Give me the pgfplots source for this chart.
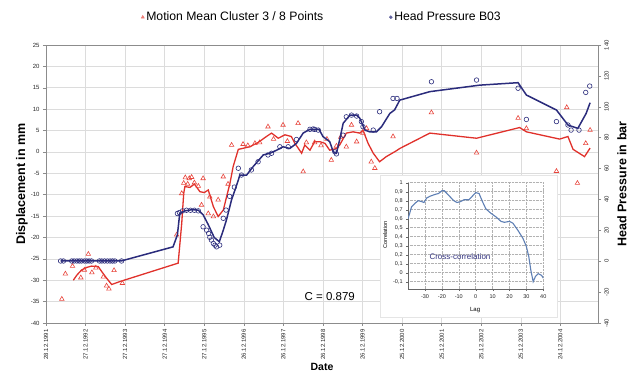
\documentclass[border=0pt]{standalone}
\usepackage{pgfplots}
\pgfplotsset{compat=1.18}
\usepackage{fontspec}
\setmainfont{Liberation Sans}
\definecolor{redline}{HTML}{E0312B}
\definecolor{redmark}{HTML}{E8453C}
\definecolor{navy}{HTML}{2B2C7C}
\definecolor{gridc}{HTML}{DCDCDC}
\definecolor{axisc}{HTML}{8C8C8C}
\definecolor{ccline}{HTML}{5E7FB4}
\definecolor{cctext}{HTML}{33337F}

\pgfplotstableread{
t y
0.40 -34.4
0.49 -28.5
0.67 -26.7
0.88 -29.4
0.97 -27.6
1.07 -23.9
1.16 -28.2
1.26 -27.1
1.45 -29.2
1.53 -31.3
1.59 -32.0
1.72 -27.7
1.93 -30.7
3.30 -19.4
3.43 -9.7
3.48 -7.3
3.52 -6.0
3.58 -7.5
3.62 -6.2
3.68 -5.9
3.75 -7.2
3.85 -8.0
3.93 -12.4
3.97 -6.2
4.10 -14.4
4.14 -10.5
4.23 -15.1
4.35 -11.2
4.48 -5.8
4.60 -7.5
4.69 1.6
4.98 1.8
5.10 1.5
5.28 2.0
5.40 2.2
5.61 5.9
5.75 3.0
5.99 6.3
6.10 2.5
6.37 6.7
6.50 -4.6
6.58 2.2
6.79 2.2
6.95 1.5
7.10 3.0
7.21 -1.9
7.34 1.4
7.45 3.5
7.59 1.2
7.72 6.3
7.85 2.4
8.01 4.4
8.10 5.5
8.22 -2.3
8.31 -3.8
8.77 3.6
9.74 9.2
10.88 -0.2
11.93 7.9
12.14 5.5
12.90 -4.5
13.16 10.4
13.43 -7.3
13.64 2.0
13.75 5.1
}\redpts

\pgfplotstableread{
t y
0.69 -30.0
0.78 -28.8
0.90 -27.6
1.03 -27.0
1.15 -26.7
1.32 -26.8
1.41 -28.0
1.53 -29.5
1.66 -31.0
1.87 -30.3
3.34 -26.0
3.43 -16.7
3.48 -9.7
3.51 -8.1
3.64 -8.3
3.75 -7.5
3.89 -9.3
4.00 -9.5
4.10 -8.9
4.23 -12.8
4.35 -15.1
4.48 -13.6
4.65 -7.3
4.73 -3.4
4.86 0.6
5.15 1.2
5.36 2.2
5.57 3.6
5.70 4.4
5.87 3.2
6.04 4.0
6.20 3.6
6.29 2.0
6.46 -0.3
6.54 1.6
6.67 0.4
6.79 2.4
6.92 2.4
7.05 2.0
7.17 0.4
7.34 0.8
7.42 1.6
7.59 4.4
7.76 4.7
7.93 4.4
8.01 5.1
8.14 2.0
8.27 -0.3
8.43 -2.3
8.60 -1.1
8.86 0.3
8.94 0.8
9.70 4.4
10.88 3.2
11.97 5.7
12.14 4.7
12.98 3.0
13.19 3.6
13.32 0.6
13.61 -1.1
13.75 0.9
}\redline

\pgfplotstableread{
t p
0.37 0.15
0.44 0.15
0.65 0.15
0.71 0.15
0.78 0.15
0.84 0.15
0.90 0.15
0.97 0.15
1.03 0.15
1.09 0.15
1.15 0.15
1.35 0.15
1.41 0.15
1.48 0.15
1.55 0.15
1.62 0.15
1.68 0.15
1.74 0.15
1.91 0.15
3.32 30.9
3.37 31.5
3.45 32.6
3.55 33.0
3.65 33.0
3.75 33.0
3.85 32.6
3.97 22.3
4.06 20.1
4.11 18.0
4.14 15.5
4.18 13.7
4.23 11.5
4.27 10.4
4.31 9.3
4.39 10.4
4.48 27.8
4.55 33.1
4.64 42.0
4.76 48.0
4.86 60.2
4.94 55.8
5.19 59.1
5.36 64.4
5.61 68.8
5.70 69.9
5.91 74.1
6.12 74.1
6.33 78.8
6.67 85.4
6.75 85.6
6.79 85.4
6.88 84.9
7.30 70.8
7.34 69.5
7.51 81.6
7.59 93.5
7.72 94.6
7.85 94.0
7.97 90.4
8.01 87.1
8.27 84.9
8.43 96.8
8.77 105.4
8.87 105.4
9.74 116.2
10.88 117.3
11.93 112.0
12.14 91.8
12.90 90.4
13.19 88.2
13.27 84.9
13.47 84.9
13.64 109.3
13.74 113.4
}\bluepts

\pgfplotstableread{
t p
0.37 0.15
1.90 0.15
3.21 9.3
3.32 17.0
3.38 30.9
3.50 32.6
3.70 33.4
3.85 33.0
3.97 30.1
4.10 23.7
4.25 15.4
4.38 12.6
4.48 20.1
4.56 26.7
4.69 39.8
4.82 49.4
4.90 55.8
5.07 55.8
5.24 61.4
5.49 68.8
5.66 69.9
5.83 71.9
5.99 74.1
6.16 73.0
6.33 76.3
6.50 83.0
6.67 85.4
6.90 85.4
7.00 80.7
7.17 77.4
7.26 70.8
7.34 69.9
7.42 78.5
7.51 89.3
7.68 94.6
7.85 94.6
7.93 92.6
8.06 84.9
8.18 83.8
8.35 83.8
8.48 87.1
8.69 95.7
8.81 98.0
8.94 104.3
9.70 109.8
10.96 114.0
11.93 115.6
12.14 107.6
12.90 97.9
13.19 88.2
13.44 86.0
13.65 95.7
13.75 102.6
}\blueline

\pgfplotstableread{
lag c
-40 0.60
-38 0.73
-36 0.77
-34 0.80
-32 0.79
-30.6 0.78
-29 0.83
-27 0.85
-24 0.87
-22 0.88
-20 0.91
-18.6 0.91
-17 0.88
-15 0.84
-13 0.80
-11 0.78
-9 0.79
-7 0.81
-4 0.81
-2 0.85
0 0.89
2 0.88
4 0.79
6 0.71
9 0.66
12 0.62
15 0.57
17 0.56
20 0.57
22 0.55
25 0.47
28 0.38
30 0.29
31.4 0.18
32.6 0.03
34 -0.10
35.4 -0.04
37 -0.01
39 -0.03
40 -0.06
}\xcorr

\begin{document}
\begin{tikzpicture}[x=1pt,y=1pt]
\path[use as bounding box] (0,0) rectangle (628,374);
\begin{axis}[
  at={(46pt,51pt)}, anchor=south west,
  width=552pt, height=278pt, scale only axis,
  xmin=0, xmax=13.95, ymin=-40, ymax=25,
  xtick={0,1,...,13},
  xticklabels={28.12.1991,27.12.1992,27.12.1993,27.12.1994,27.12.1995,26.12.1996,26.12.1997,26.12.1998,26.12.1999,25.12.2000,25.12.2001,25.12.2002,25.12.2003,24.12.2004},
  ytick={-40,-35,...,25},
  xtick pos=bottom, ytick pos=left,
  tick align=outside, major tick length=3pt,
  tick style={axisc, line width=0.5pt},
  grid=major, grid style={gridc, line width=0.6pt},
  axis line style={axisc, line width=0.7pt},
  /pgf/number format/assume math mode=true,
  xticklabel style={rotate=90, anchor=east, font=\fontsize{6}{7}\selectfont, text=black!85},
  yticklabel style={font=\fontsize{6}{7}\selectfont, text=black!85},
  xlabel={\textbf{Date}},
  xlabel style={at={(axis description cs:0.5,-0.158)}, anchor=center, font=\fontsize{10.5}{12}\selectfont},
  ylabel={\textbf{Displacement in mm}},
  ylabel style={at={(axis description cs:-0.0435,0.5)}, anchor=center, font=\fontsize{12.5}{14}\selectfont},
]
\addplot[redline, line width=1.3pt] table[x=t,y=y] {\redline};
\addplot[only marks, mark=triangle, mark size=2.6pt, redmark, mark options={line width=0.6pt}] table[x=t,y=y] {\redpts};
\node[font=\fontsize{11.5}{13}\selectfont] at (axis cs:7.17,-33.7) {C = 0.879};
\end{axis}

\begin{axis}[
  at={(46pt,51pt)}, anchor=south west,
  width=552pt, height=278pt, scale only axis,
  xmin=0, xmax=13.95, ymin=-40, ymax=140,
  axis x line=none, axis y line*=right,
  ytick={-40,-20,...,140},
  tick align=outside, major tick length=3pt,
  tick style={axisc, line width=0.5pt},
  axis line style={axisc, line width=0.7pt},
  /pgf/number format/assume math mode=true,
  yticklabel style={rotate=90, anchor=north, font=\fontsize{6}{7}\selectfont, text=black!85},
  ylabel={\textbf{Head Pressure in bar}},
  ylabel style={at={(axis description cs:1.0435,0.5)}, anchor=center, font=\fontsize{12.5}{14}\selectfont},
  legend style={at={(axis description cs:0.5,1.1)}, anchor=center, draw=none, fill=none,
    font=\fontsize{12.2}{14}\selectfont, legend columns=2,
    /tikz/every even column/.append style={column sep=64pt}},
]
\addlegendimage{only marks, mark=triangle*, mark size=1.8pt, redmark!70}
\addlegendentry{Motion Mean Cluster 3 / 8 Points}
\addlegendimage{only marks, mark=*, mark size=1.5pt, navy!75}
\addlegendentry{Head Pressure B03}
\addplot[navy, line width=1.5pt, forget plot] table[x=t,y=p] {\blueline};
\addplot[only marks, mark=o, mark size=2.3pt, navy, mark options={line width=0.6pt}, forget plot] table[x=t,y=p] {\bluepts};
\end{axis}

\fill[white, draw=gray!20] (380,57) rectangle (557,199);

\begin{axis}[
  at={(408.1pt,85.1pt)}, anchor=south west,
  width=135.2pt, height=106.2pt, scale only axis,
  xmin=-40, xmax=40, ymin=-0.18, ymax=1,
  xtick={-30,-20,-10,0,10,20,30,40},
  ytick={-0.1,0,0.1,0.2,0.3,0.4,0.5,0.6,0.7,0.8,0.9,1},
  axis lines=left, axis line style={-, black!60, line width=0.6pt},
  tick align=outside, major tick length=2pt,
  tick style={black!60},
  grid=major, grid style={densely dotted, gray!60, line width=0.5pt},
  /pgf/number format/assume math mode=true,
  /pgf/number format/use comma,
  tick label style={font=\fontsize{5.5}{6}\selectfont, text=black!85},
  yticklabel style={/pgf/number format/fixed},
  xlabel={Lag}, ylabel={Correlation},
  xlabel style={at={(axis description cs:0.496,-0.198)}, anchor=center, font=\fontsize{6}{7}\selectfont},
  ylabel style={at={(axis description cs:-0.17,0.51)}, anchor=center, font=\fontsize{5.5}{6}\selectfont},
]
\addplot[ccline, line width=1.1pt] table[x=lag,y=c] {\xcorr};
\node[font=\fontsize{8}{9}\selectfont, text=cctext] at (axis cs:-9.3,0.178) {Cross-correlation};
\end{axis}
\end{tikzpicture}
\end{document}
